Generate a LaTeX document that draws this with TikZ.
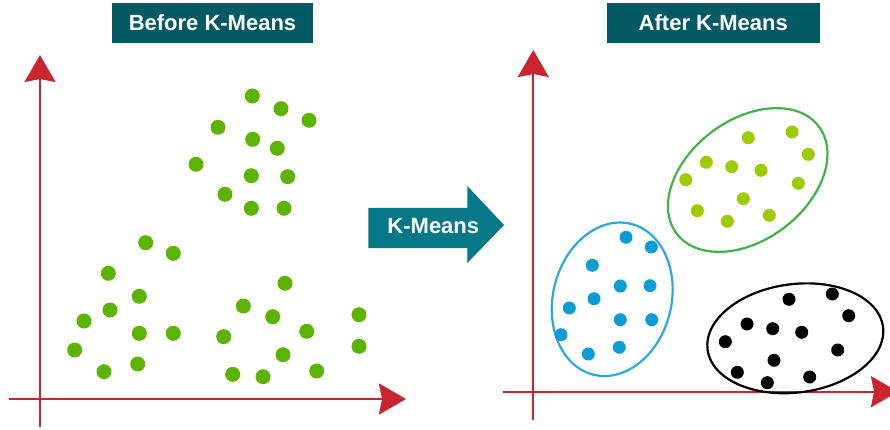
\documentclass[tikz,border=0pt]{standalone}
\usepackage{fontspec}
\setmainfont{Liberation Sans}
\usetikzlibrary{arrows.meta, shapes.geometric}
\definecolor{titleteal}{HTML}{035A63}
\definecolor{arrowteal}{HTML}{047887}
\definecolor{axisred}{HTML}{C8252E}
\definecolor{dotgreen}{HTML}{5CB400}
\definecolor{dotlime}{HTML}{9CCB00}
\definecolor{dotblue}{HTML}{0E9CD6}
\definecolor{ringgreen}{HTML}{3CB44A}
\definecolor{ringblue}{HTML}{2BA8E0}
\tikzset{
  axis/.style={line width=2.2pt, draw=axisred,
    -{Stealth[length=27pt, width=31pt, inset=3pt]}},
  titlebox/.style={fill=titleteal, text=white, inner sep=0pt,
    font=\fontsize{22}{26}\selectfont\bfseries},
  bigdot/.style={circle, fill=dotgreen, minimum size=15pt, inner sep=0pt},
  smalldot/.style={circle, minimum size=13pt, inner sep=0pt},
  ring/.style={ellipse, line width=2.2pt, inner sep=0pt}
}
\begin{document}
\begin{tikzpicture}[x=1pt, y=-1pt]
	\useasboundingbox (0,0) rectangle (890,430);

	% titles
	\node[titlebox, minimum width=201.6, minimum height=39.4] (before) at (212.5,23) {Before K-Means};
	\node[titlebox, minimum width=213.3, minimum height=39.4] (after) at (713.3,23) {After K-Means};

	% axes, left
	\coordinate (lx0) at (9.3,399);   \coordinate (lx1) at (406,399);
	\coordinate (ly0) at (40,426.7);  \coordinate (ly1) at (40,55);
	\draw[axis] (lx0) -- (lx1);
	\draw[axis] (ly0) -- (ly1);

	% axes, right
	\coordinate (rx0) at (503.3,391.7); \coordinate (rx1) at (898,391.7);
	\coordinate (ry0) at (533.3,420);   \coordinate (ry1) at (533.3,50);
	\draw[axis] (rx0) -- (rx1);
	\draw[axis] (ry0) -- (ry1);

	% K-Means arrow
	\fill[arrowteal] (368.3,208) -- (467.3,208) -- (467.3,186) -- (504,225)
		-- (467.3,263) -- (467.3,248) -- (368.3,248) -- cycle;
	\node[text=white, font=\fontsize{22}{26}\selectfont\bfseries] (km) at (433.3,226) {K-Means};

	% data before clustering
	\foreach \x/\y [count=\i] in {252.3/96, 281/108.7, 309/120.3, 218/127.3, 252.7/139.3,
		277.3/148.3, 196/164.3, 251.3/175.7, 287.7/176.7, 225/194.3, 251.3/208.3, 284/208.3,
		145.7/242.7, 173.3/253.3, 108.3/273.3, 139.3/296.3, 110/310, 84/321, 139.3/333.3,
		173.3/333.3, 74.7/350, 104/371.7, 137.7/364,
		285/283.3, 243.3/306, 272.7/316.7, 306.7/331.3, 223.7/336.7, 283/354.7,
		232.7/374.3, 263/376.7, 316.7/371, 359/314.7, 359/346.3}
		\node[bigdot] (p\i) at (\x,\y) {};

	% clusters after
	\node[ring, draw=ringgreen, minimum width=178, minimum height=120, rotate=37] (cgreen) at (747.7,180) {};
	\node[ring, draw=ringblue, minimum width=118.4, minimum height=155.4, rotate=-14] (cblue) at (612.2,299.3) {};
	\node[ring, draw=black, minimum width=177, minimum height=108.4, rotate=7.4] (cblack) at (795.3,338.3) {};

	\foreach \x/\y [count=\i] in {748.3/137.7, 792/132, 808.3/154.3, 706.3/162.3, 731.7/166.7,
		761/170.3, 685.7/179.7, 798.3/183.3, 743.3/198.7, 697.3/210.7, 727.3/221.3, 769.3/215.3}
		\node[smalldot, fill=dotlime] (g\i) at (\x,\y) {};

	\foreach \x/\y [count=\i] in {626/237.3, 651.3/247, 592.3/265.3, 620.3/286, 650/285.7,
		594/298.7, 569.3/308, 620.3/319.7, 651.7/319.7, 561/334.7, 588.3/354, 619.3/347.3}
		\node[smalldot, fill=dotblue] (b\i) at (\x,\y) {};

	\foreach \x/\y [count=\i] in {789/299.3, 832.3/294, 848.7/315.7, 747/324, 772.7/328.7,
		801.7/332.3, 725.3/341.7, 837.7/350, 774/360.3, 737.3/372.3, 767.3/382.7, 809.7/377}
		\node[smalldot, fill=black] (k\i) at (\x,\y) {};

\end{tikzpicture}
\end{document}
